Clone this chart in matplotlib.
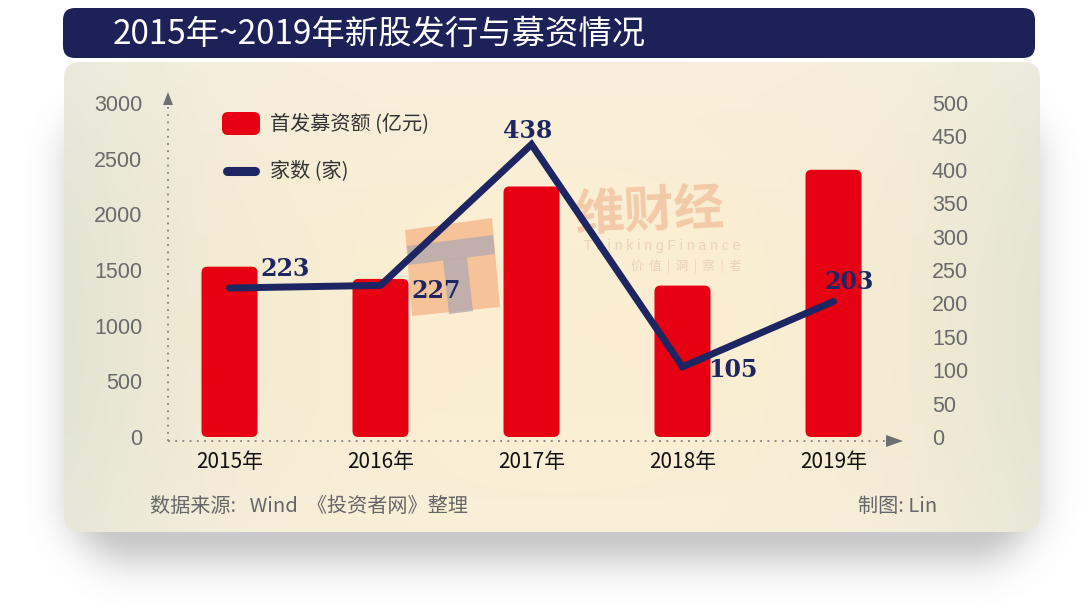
import numpy as np
import matplotlib
matplotlib.use("Agg")
import matplotlib.pyplot as plt
from matplotlib.patches import FancyBboxPatch, Polygon

plt.rcParams["font.family"] = ["Liberation Sans", "Noto Sans CJK SC", "DejaVu Sans"]

# ---- data ----
years = ["2015年", "2016年", "2017年", "2018年", "2019年"]
raised = [1530, 1420, 2250, 1360, 2400]      # 首发募资额 (亿元)
ipo_count = [223, 227, 438, 105, 203]        # 家数 (家)
left_ticks = [0, 500, 1000, 1500, 2000, 2500, 3000]
right_ticks = list(range(0, 501, 50))

RED = "#e60012"
NAVY = "#1d2562"
CJK = ["Noto Sans CJK SC", "DejaVu Sans"]

W, H = 1092, 611
fig = plt.figure(figsize=(W / 100, H / 100), dpi=100)

# ---- background layer in pixel coordinates ----
bg = fig.add_axes([0, 0, 1, 1], zorder=0)
bg.axis("off")

yy, xx = np.mgrid[0:H, 0:W] + 0.5


def rr_dist(x0, y0, x1, y1, r):
    cx, cy = (x0 + x1) / 2, (y0 + y1) / 2
    hw, hh = (x1 - x0) / 2 - r, (y1 - y0) / 2 - r
    dx = np.maximum(np.abs(xx - cx) - hw, 0)
    dy = np.maximum(np.abs(yy - cy) - hh, 0)
    return np.hypot(dx, dy) - r


# soft drop shadow under the card
d = np.clip(rr_dist(95, 130, 1010, 535, 40), 0, None)
shadow = np.zeros((H, W, 4))
shadow[..., :3] = 0.5
shadow[..., 3] = 0.42 * np.exp(-d ** 2 / (2 * 24 ** 2))
bg.imshow(shadow, extent=(0, W, H, 0), aspect="auto", zorder=1)

# cream card with a soft vignette
card = FancyBboxPatch((64, 62), 976, 470, boxstyle="round,pad=0,rounding_size=16",
                      fc="none", ec="none", zorder=2)
bg.add_patch(card)
t = np.clip(np.abs(xx - 560) / 490, 0, 1) ** 3
tv = np.clip(np.abs(yy - 330) / 280, 0, 1) ** 2
c_mid = np.array([251, 238, 210]) / 255
c_edge = np.array([226, 228, 212]) / 255
c_top = np.array([245, 242, 232]) / 255
grad = c_mid * (1 - t[..., None]) + c_edge * t[..., None]
grad = grad * (1 - 0.5 * tv[..., None]) + c_top * 0.5 * tv[..., None]
im = bg.imshow(np.clip(grad, 0, 1), extent=(0, W, H, 0), aspect="auto", zorder=2)
im.set_clip_path(card)

# title banner
bg.add_patch(FancyBboxPatch((63, 8), 972, 50, boxstyle="round,pad=0,rounding_size=12",
                            fc="#1c2257", ec="none", zorder=3))
bg.text(113, 34, "2015年~2019年新股发行与募资情况", color="white", fontsize=24,
        va="center", ha="left", family=CJK, zorder=4)

# faint watermark
bg.add_patch(Polygon([(405, 230), (492, 218), (500, 307), (412, 316)],
                     closed=True, fc="#f5b586", ec="none", alpha=0.75, zorder=3))
bg.add_patch(Polygon([(407, 246), (493, 235), (495, 254), (409, 265)],
                     closed=True, fc="#b4aab0", ec="none", alpha=0.8, zorder=3))
bg.add_patch(Polygon([(443, 260), (467, 257), (473, 311), (449, 314)],
                     closed=True, fc="#b4aab0", ec="none", alpha=0.8, zorder=3))
bg.text(650, 213, "维财经", fontsize=36, fontweight="bold", color="#f1c4a0",
        ha="center", va="center", family=CJK, alpha=0.85, zorder=3, rotation=3)
bg.text(740, 246, "T h i n k i n g F i n a n c e", fontsize=10, color="#ead2bb",
        ha="right", va="center", zorder=3)
bg.text(742, 266, "价  值  |  洞  |  察  |  者", fontsize=9, color="#ead2bb",
        ha="right", va="center", family=CJK, zorder=3)

# dotted axis lines with arrow heads
bg.plot([168, 168], [441, 106], ls=(0, (1, 3)), color="#808080", lw=1.3, zorder=4)
bg.plot([168, 887], [441, 441], ls=(0, (1, 3)), color="#808080", lw=1.3, zorder=4)
bg.add_patch(Polygon([(163, 105), (173, 105), (168, 92)], closed=True,
                     fc="#6f6f6f", ec="none", zorder=4))
bg.add_patch(Polygon([(886, 435), (886, 447), (903, 441)], closed=True,
                     fc="#6f6f6f", ec="none", zorder=4))

# legend
bg.add_patch(FancyBboxPatch((222, 112), 38, 23, boxstyle="round,pad=0,rounding_size=6",
                            fc=RED, ec="none", zorder=4))
bg.text(270, 124, "首发募资额 (亿元)", fontsize=14.5, color="#333333", va="center",
        family=CJK, zorder=4)
bg.plot([227, 255], [171, 171], lw=6.5, color=NAVY, solid_capstyle="round", zorder=4)
bg.text(270, 171, "家数 (家)", fontsize=14.5, color="#333333", va="center",
        family=CJK, zorder=4)

# footer
bg.text(150, 506, "数据来源:   Wind  《投资者网》整理", fontsize=14.5, color="#666666",
        va="center", ha="left", family=CJK, zorder=4)
bg.text(937, 506, "制图: Lin", fontsize=14.5, color="#666666",
        va="center", ha="right", family=CJK, zorder=4)

bg.set_xlim(0, W)
bg.set_ylim(H, 0)

# ---- main chart ----
ax = fig.add_axes([168 / W, 1 - 437 / H, (900 - 168) / W, (437 - 103) / H], zorder=2)
ax.patch.set_visible(False)
x = np.arange(len(years))
ax.set_xlim((168 - 229.5) / 151, (900 - 229.5) / 151)
ax.set_ylim(0, 3000)

bars = ax.bar(x, raised, width=56 / 151, color=RED)
px_y = 3000 / 334  # data units per pixel on the left axis
for b in bars:
    b.set_visible(False)
    ax.add_patch(FancyBboxPatch((b.get_x(), 0), b.get_width(), b.get_height(),
                                boxstyle=f"round,pad=0,rounding_size={6 / 151}",
                                mutation_aspect=px_y * 151, fc=RED, ec="none"))

ax.set_yticks(left_ticks)
ax.set_xticks(x, years)
ax.tick_params(axis="y", length=0, pad=18.5, labelsize=15.5, labelcolor="#6a6a6a")
ax.tick_params(axis="x", length=0, pad=10, labelsize=15, labelcolor="#111111")
for lab in ax.get_xticklabels():
    lab.set_family(CJK)
for s in ax.spines.values():
    s.set_visible(False)

ax2 = ax.twinx()
ax2.set_zorder(3)
ax2.patch.set_visible(False)
ax2.set_ylim(0, 500)
ax2.plot(x, ipo_count, color=NAVY, lw=5, solid_joinstyle="miter",
         solid_capstyle="round")
ax2.set_yticks(right_ticks)
ax2.tick_params(axis="y", length=0, pad=23, labelsize=15.5, labelcolor="#6a6a6a")
for s in ax2.spines.values():
    s.set_visible(False)

offsets = [(40, 14), (40, -4), (-3, 10), (36, -2), (11, 14)]
for xi, v, off in zip(x, ipo_count, offsets):
    ax2.annotate(str(v), (xi, v), xytext=off, textcoords="offset points",
                 ha="center", va="center", fontsize=17, fontweight="bold",
                 family="DejaVu Serif", color=NAVY)

fig.savefig("out.png", dpi=100)
